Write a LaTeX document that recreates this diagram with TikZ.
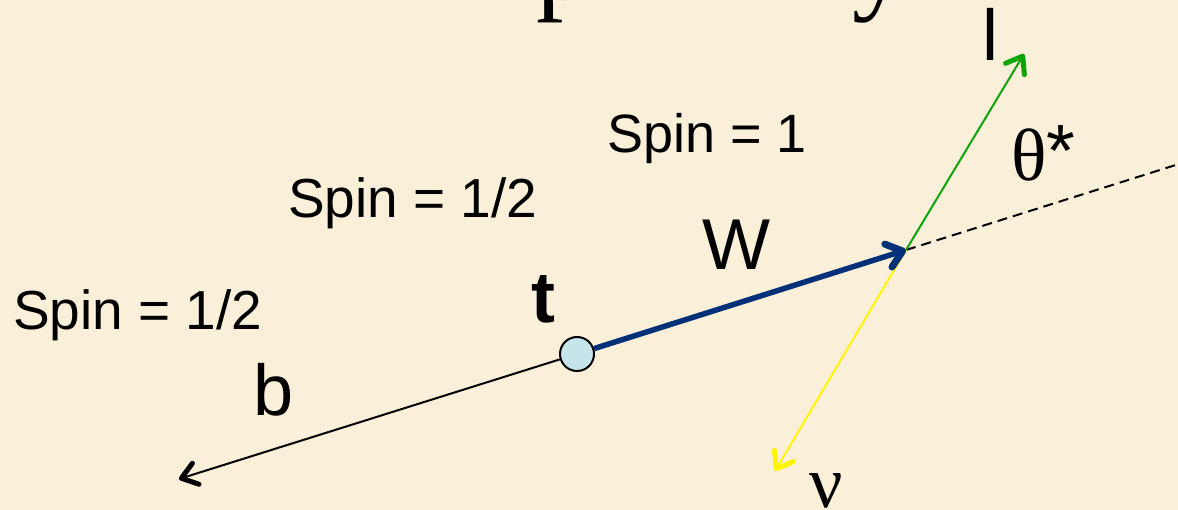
\documentclass[tikz,border=0pt]{standalone}
\usepackage{fontspec}
\setmainfont{Liberation Sans}
\newfontfamily\serifgr{Liberation Serif}
\usetikzlibrary{arrows.meta}
\definecolor{bg}{RGB}{250,239,217}
\definecolor{wnavy}{RGB}{0,48,120}
\definecolor{lgreen}{RGB}{10,165,10}
\definecolor{nuyellow}{RGB}{255,245,0}
\definecolor{tfill}{RGB}{197,229,235}
\begin{document}
\begin{tikzpicture}[x=1pt,y=-1pt,
  lbl/.style={inner sep=0pt, anchor=base west, font=\fontsize{55}{60}\selectfont},
  big/.style={inner sep=0pt, anchor=base west, font=\fontsize{72}{80}\selectfont},
  greek/.style={inner sep=0pt, anchor=base west, font=\serifgr\fontsize{74}{80}\selectfont},
  title/.style={inner sep=0pt, anchor=base west, font=\serifgr\fontsize{110}{110}\selectfont},
  thinarrow/.style={line width=2pt, -{Straight Barb[length=15pt, width=22pt, line width=5pt, round]}},
  warrow/.style={line width=5.5pt, color=wnavy, -{Straight Barb[length=15pt, width=24pt, line width=7pt, round]}}
]
\fill[bg] (0,0) rectangle (1178,510);
\useasboundingbox (0,0) rectangle (1178,510);
\clip (0,0) rectangle (1178,510);

% partial title glyphs
\node[title] (tp) at (536,0) {p};
\node[title] (ty) at (852,0) {y};

% points
\coordinate (wv) at (906,250);
\coordinate (bend) at (179,479);
\coordinate (lend) at (1024,54);
\coordinate (nuend) at (775,471);
\coordinate (dashend) at (1190,160.5);

\node[circle, draw, line width=2pt, fill=tfill, minimum size=34pt, inner sep=0pt] (t) at (577,354) {};

\draw[dashed, dash pattern=on 10pt off 6pt, line width=2pt] (wv) -- (dashend);
\draw[thinarrow, color=lgreen] (wv) -- (lend);
\draw[thinarrow, color=nuyellow] (wv) -- (nuend);
\draw[thinarrow, black] (t) -- (bend);
\draw[warrow] (t) -- (wv);

% labels
\node[lbl, font=\fontsize{54}{60}\selectfont] (s1) at (607,153) {Spin = 1};
\node[lbl] (s2) at (288,218) {Spin = 1/2};
\node[lbl] (s3) at (13,330) {Spin = 1/2};
\node[big] (lw) at (702,270) {W};
\node[big] (lb) at (253,415) {b};
\node[big, font=\bfseries\fontsize{72}{80}\selectfont] (lt) at (531,323) {t};
\node[big] (ll) at (982,61) {l};
\node[greek] (lth) at (1011,181) {θ\raisebox{4pt}{\fontspec{Liberation Sans}*}};
\node[greek] (lnu) at (809,507) {ν};
\end{tikzpicture}
\end{document}
